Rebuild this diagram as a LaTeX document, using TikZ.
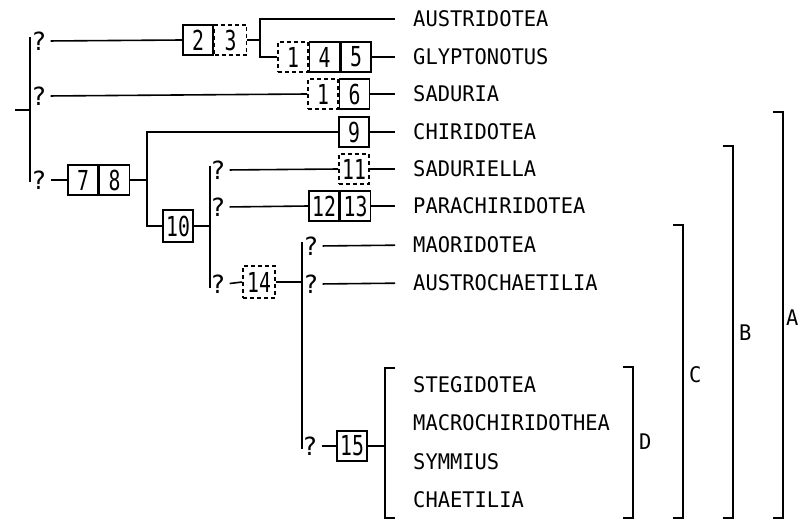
\documentclass[tikz,border=0pt]{standalone}
\usepackage{fontspec}
\setmainfont{DejaVu Sans Mono}
\newfontfamily\digitfont[FakeStretch=0.72]{DejaVu Sans Mono}
\newfontfamily\taxonfont[FakeStretch=0.95]{DejaVu Sans Mono}
\begin{document}
\begin{tikzpicture}[x=1pt,y=-1pt,
  ln/.style={line width=1.6pt},
  tl/.style={ln,shorten >=18pt},
  ql/.style={ln,shorten <=4pt},
  cell/.style={draw,line width=1.6pt,minimum width=30pt,minimum height=30pt,inner sep=0pt,
    font=\digitfont\fontsize{27.5}{27.5}\selectfont},
  dcell/.style={cell,dash pattern=on 4pt off 3pt},
  q/.style={inner sep=0pt,font=\fontsize{25}{25}\selectfont},
  taxon/.style={anchor=west,inner sep=0pt,font=\taxonfont\fontsize{21.5}{22}\selectfont},
  lab/.style={anchor=west,inner sep=0pt,font=\taxonfont\fontsize{21.5}{22}\selectfont}
]
\useasboundingbox (0,0) rectangle (799,519);

% taxa
\node[taxon] (t1) at (413,19) {AUSTRIDOTEA};
\node[taxon] (t2) at (413,57) {GLYPTONOTUS};
\node[taxon] (t3) at (413,94) {SADURIA};
\node[taxon] (t4) at (413,132) {CHIRIDOTEA};
\node[taxon] (t5) at (413,169) {SADURIELLA};
\node[taxon] (t6) at (413,206) {PARACHIRIDOTEA};
\node[taxon] (t7) at (413,245) {MAORIDOTEA};
\node[taxon] (t8) at (413,283) {AUSTROCHAETILIA};
\node[taxon] (t9) at (413,385) {STEGIDOTEA};
\node[taxon] (t10) at (413,423) {MACROCHIRIDOTHEA};
\node[taxon] (t11) at (413,462) {SYMMIUS};
\node[taxon] (t12) at (413,500) {CHAETILIA};

% question marks
\node[q] (q1) at (39,41) {?};
\node[q] (q2) at (39,96) {?};
\node[q] (q3) at (39,180) {?};
\node[q] (q5) at (218,170) {?};
\node[q] (q6) at (218,207) {?};
\node[q] (q7) at (218,284) {?};
\node[q] (q8) at (311,246) {?};
\node[q] (q9) at (311,284) {?};
\node[q] (q10) at (310,446) {?};

% character boxes
\node[cell] (c2) at (198,40) {2};
\node[dcell,anchor=west,minimum width=32pt] (c3) at (c2.east) {3};
\node[dcell] (c1a) at (293,57) {1};
\node[cell,anchor=west] (c4) at (c1a.east) {4};
\node[cell,anchor=west] (c5) at (c4.east) {5};
\node[dcell] (c1b) at (323,94) {1};
\node[cell,anchor=west] (c6) at (c1b.east) {6};
\node[cell] (c7) at (83,180) {7};
\node[cell,anchor=west] (c8) at (c7.east) {8};
\node[cell] (c9) at (354,132) {9};
\node[cell,minimum height=32pt] (c10) at (178,226) {10};
\node[dcell] (c11) at (354,169) {11};
\node[cell] (c12) at (324,206) {12};
\node[cell,anchor=west] (c13) at (c12.east) {13};
\node[dcell,minimum width=32pt,minimum height=32pt] (c14) at (259,282) {14};
\node[cell] (c15) at (352,446) {15};

% junction coordinates
\coordinate (r0) at (15,110);
\coordinate (r1) at (30,110);
\coordinate (rtop) at (30,37);
\coordinate (rbot) at (30,182);
\coordinate (j1) at (260,40);
\coordinate (j3) at (147,180);
\coordinate (j4) at (210,226);
\coordinate (v4top) at (210,166);
\coordinate (v4bot) at (210,288);
\coordinate (j5) at (302,282);
\coordinate (v5top) at (302,242);
\coordinate (v5bot) at (302,449);
\coordinate (j6) at (385,446);
\coordinate (d1) at (395,368);
\coordinate (d2) at (395,518);

% root
\draw[ln] (r0) -- (r1);
\draw[ln] (rtop) -- (rbot);

% branch 1
\draw[ql] (q1.east) -- (c2.west);
\draw[ln] (c3.east) -- (j1);
\draw[ln] ([xshift=-18pt]t1.west) -| (j1) |- (c1a.west);
\draw[tl] (c5.east) -- (t2.west);

% branch 2
\draw[ql] (q2.east) -- (c1b.west);
\draw[tl] (c6.east) -- (t3.west);

% branch 3
\draw[ql] (q3.east) -- (c7.west);
\draw[ln] (c8.east) -- (j3);
\draw[ln] (c9.west) -| (j3) |- (c10.west);
\draw[tl] (c9.east) -- (t4.west);
\draw[ln] (c10.east) -- (j4);
\draw[ln] (v4top) -- (v4bot);
\draw[ql] (q5.east) -- (c11.west);
\draw[tl] (c11.east) -- (t5.west);
\draw[ql] (q6.east) -- (c12.west);
\draw[tl] (c13.east) -- (t6.west);
\draw[ql] (q7.east) -- (c14.west);
\draw[ln] (c14.east) -- (j5);
\draw[ln] (v5top) -- (v5bot);
\draw[ql,tl] (q8.east) -- (t7.west);
\draw[ql,tl] (q9.east) -- (t8.west);
\draw[ql] (q10.east) -- (c15.west);
\draw[ln] (c15.east) -- (j6);
\draw[ln] (d1) -| (j6) |- (d2);

% group brackets
\draw[ln] (623,367) -- (633,367) -- (633,518) -- (623,518);
\node[lab] (lD) at (639,442) {D};
\draw[ln] (673,225) -- (683,225) -- (683,518) -- (673,518);
\node[lab] (lC) at (689,375) {C};
\draw[ln] (723,146) -- (733,146) -- (733,518) -- (723,518);
\node[lab] (lB) at (739,333) {B};
\draw[ln] (773,112) -- (783,112) -- (783,518) -- (773,518);
\node[lab] (lA) at (786,318) {A};
\end{tikzpicture}
\end{document}
